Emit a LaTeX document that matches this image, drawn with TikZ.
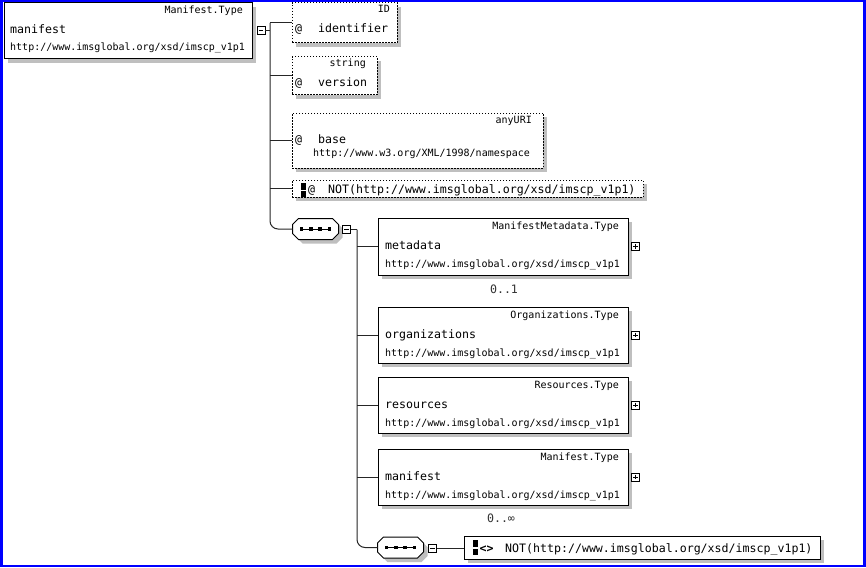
\documentclass[tikz,border=0pt]{standalone}
\usepackage{fontspec}
\setmainfont{DejaVu Sans Mono}
\usetikzlibrary{shadows,calc}
\tikzset{
  shad/.style={drop shadow={shadow xshift=4pt, shadow yshift=-4pt, fill=black!25, opacity=1}},
  elbox/.style={draw, line width=1pt, fill=white, inner sep=0pt, outer sep=0pt, anchor=north west, shad},
  attbox/.style={elbox, dash pattern=on 1.5pt off 1.5pt},
  seqbox/.style={inner sep=0pt, outer sep=0pt, minimum width=46pt, minimum height=21pt},
  tog/.style={draw, line width=0.8pt, fill=white, minimum size=8pt, inner sep=0pt, outer sep=0pt},
  conn/.style={line width=1pt, black!85},
  tname/.style={font=\fontsize{11.6}{13}\selectfont, inner sep=0pt, anchor=base west},
  ttype/.style={font=\fontsize{10}{12}\selectfont, inner sep=0pt, anchor=base east},
  turl/.style={font=\fontsize{10}{12}\selectfont, inner sep=0pt, anchor=base west},
  tcard/.style={font=\fontsize{11.6}{13}\selectfont, inner sep=0pt, anchor=base, black!80},
}
\newcommand\seqdraw[1]{%
  \fill[black!25] ($(#1.north west)+(4,10)$) -- ($(#1.north west)+(10,4)$) -- ($(#1.north east)+(-2,4)$)
    -- ($(#1.north east)+(4,10)$) -- ($(#1.south east)+(4,-2)$) -- ($(#1.south east)+(-2,4)$)
    -- ($(#1.south west)+(10,4)$) -- ($(#1.south west)+(4,-2)$) -- cycle;
  \draw[line width=1pt, fill=white] ($(#1.north west)+(0,6)$) -- ($(#1.north west)+(6,0)$) -- ($(#1.north east)+(-6,0)$)
    -- ($(#1.north east)+(0,6)$) -- ($(#1.south east)+(0,-6)$) -- ($(#1.south east)+(-6,0)$)
    -- ($(#1.south west)+(6,0)$) -- ($(#1.south west)+(0,-6)$) -- cycle;
  \draw[line width=0.8pt] ($(#1.center)+(-14,0)$) -- ($(#1.center)+(14,0)$);
  \foreach \dx in {-14,-4.67,4.67,14} \fill ($(#1.center)+(\dx,0)+(-1.9,-1.9)$) rectangle ++(3.8,3.8);
}
\begin{document}
\begin{tikzpicture}[x=1pt,y=-1pt]
\useasboundingbox (0,0) rectangle (866,567);
\fill[blue] (0,0) rectangle (866,567);
\fill[white] (2.5,2.5) rectangle (863,564.5);

% root element
\node[elbox, minimum width=248pt, minimum height=56pt] (root) at (4,3) {};
\node[ttype] (rootT) at (243,14) {Manifest.Type};
\node[tname] (rootN) at (10,34) {manifest};
\node[turl] (rootU) at (10,51) {http://www.imsglobal.org/xsd/imscp\_v1p1};
\node[tog] (m1) at (261,30.5) {};

% attributes
\node[attbox, minimum width=105pt, minimum height=40pt] (ident) at (292,3) {};
\node[ttype] (identT) at (390,13) {ID};
\node[tname] (identA) at (295,33) {@};
\node[tname] (identN) at (318,33) {identifier};

\node[attbox, minimum width=85pt, minimum height=38pt] (version) at (292,57) {};
\node[ttype] (versionT) at (366,67) {string};
\node[tname] (versionA) at (295,87) {@};
\node[tname] (versionN) at (318,87) {version};

\node[attbox, minimum width=251pt, minimum height=55pt] (base) at (292,113) {};
\node[ttype] (baseT) at (532,123) {anyURI};
\node[tname] (baseA) at (295,143) {@};
\node[tname] (baseN) at (318,143) {base};
\node[turl] (baseU) at (313,156) {http://www.w3.org/XML/1998/namespace};

\node[attbox, minimum width=351pt, minimum height=17pt] (notatt) at (292,180) {};
\fill (301,182.5) rectangle (306,189.5);
\fill (301,191) rectangle (306,196.5);
\node[tname] (notattA) at (308,193) {@};
\node[tname] (notattN) at (328,193) {NOT(http://www.imsglobal.org/xsd/imscp\_v1p1)};

% sequence 1
\node[seqbox] (seq1) at (315.5,229) {};
\seqdraw{seq1}
\node[tog] (m2) at (346.5,229.5) {};

% children
\node[elbox, minimum width=250pt, minimum height=57pt] (meta) at (378,218) {};
\node[ttype] at (619,229) {ManifestMetadata.Type};
\node[tname] at (385,249) {metadata};
\node[turl] at (385,267) {http://www.imsglobal.org/xsd/imscp\_v1p1};
\node[tcard] (card1) at (504,293) {0..1};

\node[elbox, minimum width=250pt, minimum height=56pt] (org) at (378,307) {};
\node[ttype] at (619,318) {Organizations.Type};
\node[tname] at (385,338) {organizations};
\node[turl] at (385,356) {http://www.imsglobal.org/xsd/imscp\_v1p1};

\node[elbox, minimum width=250pt, minimum height=56pt] (res) at (378,377) {};
\node[ttype] at (619,388) {Resources.Type};
\node[tname] at (385,408) {resources};
\node[turl] at (385,426) {http://www.imsglobal.org/xsd/imscp\_v1p1};

\node[elbox, minimum width=250pt, minimum height=56pt] (man) at (378,449) {};
\node[ttype] at (619,460) {Manifest.Type};
\node[tname] at (385,480) {manifest};
\node[turl] at (385,498) {http://www.imsglobal.org/xsd/imscp\_v1p1};
\node[tcard] (card2) at (501,522) {0..∞};

\foreach \b/\p in {meta/p1, org/p2, res/p3, man/p4} {
  \node[tog] (\p) at ($(\b.east)+(7.5,0)$) {};
  \draw[line width=0.8pt] ($(\p.west)+(1.6,0)$) -- ($(\p.east)+(-1.6,0)$);
  \draw[line width=0.8pt] ($(\p.north)+(0,1.6)$) -- ($(\p.south)+(0,-1.6)$);
}

% sequence 2
\node[seqbox] (seq2) at (400.5,547.5) {};
\seqdraw{seq2}
\node[tog] (m3) at (432.5,548) {};

\node[elbox, minimum width=356pt, minimum height=23pt] (notel) at (464,536) {};
\fill (473,540) rectangle (478,547);
\fill (473,548.5) rectangle (478,555);
\node[tname, font=\fontsize{11.6}{13}\selectfont\bfseries] (notelI) at (479.5,552) {<>};
\node[tname] (notelN) at (505,552) {NOT(http://www.imsglobal.org/xsd/imscp\_v1p1)};

% minus signs
\foreach \m in {m1,m2,m3}
  \draw[line width=0.8pt] ($(\m.west)+(1.6,0)$) -- ($(\m.east)+(-1.6,0)$);

% connectors
\coordinate (bus1) at (270,0);
\coordinate (bus2) at (357,0);
\draw[conn] (m1.east) -- (bus1 |- m1.east);
\draw[conn, rounded corners=8pt] (bus1 |- ident.west) -- (bus1 |- seq1.west) -- (seq1.west);
\foreach \n in {ident, version, base, notatt}
  \draw[conn] (bus1 |- \n.west) -- (\n.west);
\draw[conn] (m2.east) -- (bus2 |- m2.east);
\draw[conn, rounded corners=8pt] (bus2 |- m2.east) -- (bus2 |- seq2.west) -- (seq2.west);
\foreach \n in {meta, org, res, man}
  \draw[conn] (bus2 |- \n.west) -- (\n.west);
\draw[conn] (m3.east) -- (m3.east -| notel.west);
\end{tikzpicture}
\end{document}
